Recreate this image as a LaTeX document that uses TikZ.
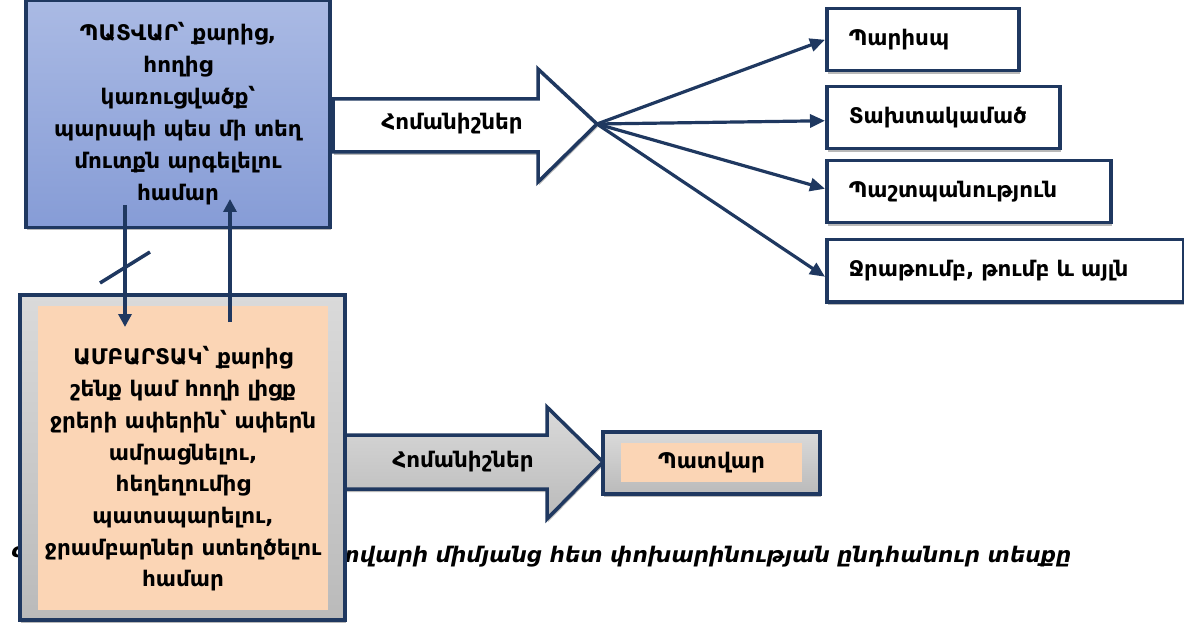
\documentclass[tikz,border=0pt]{standalone}
\usepackage{fontspec}
\setmainfont{DejaVu Sans}
\usetikzlibrary{arrows.meta,shadows}
\definecolor{navy}{RGB}{31,56,96}
\definecolor{topblue}{RGB}{170,186,228}
\definecolor{botblue}{RGB}{134,156,214}
\definecolor{grayA}{RGB}{218,218,218}
\definecolor{grayB}{RGB}{186,186,186}
\definecolor{peach}{RGB}{251,213,181}
\newcommand{\boxfont}{\fontsize{21.5}{32}\selectfont\bfseries}
\newcommand{\itemfont}{\fontsize{21.5}{26}\selectfont\bfseries}
\begin{document}
\begin{tikzpicture}[x=1pt,y=1pt,yscale=-1,xscale=1,
  box/.style={draw=navy,line width=3.5pt,drop shadow={shadow xshift=1pt,shadow yshift=-3pt,fill=gray!55,opacity=1}},
  itembox/.style={box,fill=white,anchor=north west,minimum height=62,inner xsep=22pt,align=left,font=\itemfont},
  fanarrow/.style={draw=navy,line width=3.2pt,-{Triangle[length=15pt,width=13pt]}},
  link/.style={draw=navy,line width=3.5pt,-{Triangle[length=13pt,width=13pt]}}]
\useasboundingbox (0,0) rectangle (1184,631);

% Text Node
\node[anchor=east,font=\fontsize{21.5}{26}\selectfont\bfseries\itshape] (cap) at (1075,557) {Գծ. 1. Ամբարտակի և պատվարի միմյանց հետ փոխարինության ընդհանուր տեսքը};

%Shape: Right Arrow
\draw[box,top color=grayA,bottom color=grayB] (343,435) -- (547,435) -- (547,407) -- (603,462) -- (547,519) -- (547,489) -- (343,489) -- cycle;
% Text Node
\node[font=\itemfont] (syn2) at (463,462) {Հոմանիշներ};

%Shape: Rectangle
\node[box,top color=grayA,bottom color=grayB,minimum width=325,minimum height=325] (dam) at (182.5,457.5) {};
\node[fill=peach,minimum width=290,minimum height=304] (damin) at (183,458) {};
% Text Node
\node[align=center,font=\fontsize{21.5}{31.7}\selectfont\bfseries] (damtext) at (183,469) {ԱՄԲԱՐՏԱԿ՝ քարից\\ շենք կամ հողի լիցք\\ ջրերի ափերին՝ ափերն\\ ամրացնելու,\\ հեղեղումից\\ պատսպարելու,\\ ջրամբարներ ստեղծելու\\ համար};

%Shape: Rectangle
\node[box,top color=grayA,bottom color=grayB,minimum width=217,minimum height=62] (wallres) at (711.5,463) {};
\node[fill=peach,minimum width=181,minimum height=39,font=\itemfont] (wallin) at (711.5,462.5) {Պատվար};

%Shape: Right Arrow
\draw[box,fill=white] (333,99) -- (538,99) -- (538,69) -- (597,124) -- (538,182) -- (538,152) -- (333,152) -- cycle;
\coordinate (fan) at (597,124);
% Text Node
\node[font=\itemfont] (syn1) at (452,124) {Հոմանիշներ};

%Shape: Rectangle
\node[box,top color=topblue,bottom color=botblue,minimum width=304,minimum height=227,align=center,font=\boxfont] (wall) at (178,114) {ՊԱՏՎԱՐ՝ քարից,\\ հողից\\ կառուցվածք՝\\ պարսպի պես մի տեղ\\ մուտքն արգելելու\\ համար};

%Shape: Rectangles
\node[itembox,text width=148] (fence) at (825,7) {Պարիսպ};
\node[itembox,text width=189] (plank) at (825,85) {Տախտակամած};
\node[itembox,text width=240] (guard) at (825,159) {Պաշտպանություն};
\node[itembox,text width=313] (dike) at (825,238) {Ջրաթումբ, թումբ և այլն};

%Straight Lines
\draw[fanarrow] (fan) -- (fence.west);
\draw[fanarrow] (fan) -- ([yshift=3pt]plank.west);
\draw[fanarrow] (fan) -- ([yshift=-3pt]guard.west);
\draw[fanarrow] (fan) -- ([yshift=6pt]dike.west);

%Straight Lines
\coordinate (down1) at (125,205);
\coordinate (down2) at (125,327);
\coordinate (up1) at (230,322);
\coordinate (up2) at (230,199);
\coordinate (cut1) at (100,283);
\coordinate (cut2) at (150,252);
\draw[link] (down1) -- (down2);
\draw[link] (up1) -- (up2);
\draw[draw=navy,line width=3.5pt] (cut1) -- (cut2);

\end{tikzpicture}
\end{document}
